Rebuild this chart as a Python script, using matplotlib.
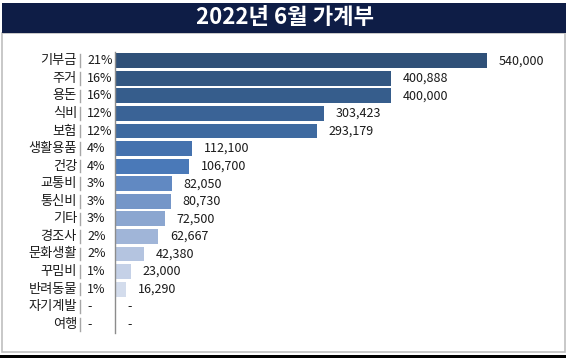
import matplotlib
matplotlib.use("Agg")
from matplotlib import pyplot as plt
from matplotlib import patches, transforms
from matplotlib.lines import Line2D

plt.rcParams['font.family'] = ['Noto Sans CJK KR', 'DejaVu Sans']

title = '2022년 6월 가계부'
categories = ['기부금', '주거', '용돈', '식비', '보험', '생활용품', '건강', '교통비',
              '통신비', '기타', '경조사', '문화생활', '꾸밈비', '반려동물', '자기계발', '여행']
amounts = [540000, 400888, 400000, 303423, 293179, 112100, 106700, 82050,
           80730, 72500, 62667, 42380, 23000, 16290, 0, 0]

bar_colors = ['#2F5078', '#335782', '#365D8C', '#3A6396', '#3E6AA0', '#4572AE', '#4A79B8',
              '#6189C2', '#7596C8', '#8BA6D0', '#A0B5D8', '#B4C4E0', '#C5D1E7', '#D3DCEC',
              '#D3DCEC', '#D3DCEC']

W, H = 569, 359
fig = plt.figure(figsize=(W / 100, H / 100), dpi=100)

def fx(px):
    return px / W

def fy(py):
    return 1 - py / H

# frame and title banner (behind the axes)
fig.patches.append(patches.Rectangle((fx(2), fy(352)), fx(563), (352 - 33) / H, transform=fig.transFigure,
                                     facecolor='white', edgecolor='#BFBFBF', linewidth=1.2, zorder=-5))
fig.patches.append(patches.Rectangle((fx(2), fy(33)), fx(564), 30 / H, transform=fig.transFigure,
                                     facecolor='#0E1D46', edgecolor='none', zorder=-4))
fig.patches.append(patches.Rectangle((fx(0), fy(358)), fx(566), 3 / H, transform=fig.transFigure,
                                     facecolor='black', edgecolor='none', zorder=-4))
fig.text(fx(285), fy(18), title, color='white', fontsize=16, fontweight='bold',
         ha='center', va='center')

ax = fig.add_axes([fx(115), fy(333), (565 - 115) / W, (333 - 52) / H])
ax.set_facecolor('none')
n = len(categories)
ypos = list(range(n))
ax.barh(ypos, amounts, height=0.85, color=bar_colors)
ax.set_xlim(0, 450 * 540000 / 372)
ax.set_ylim(n - 0.5, -0.5)
ax.set_xticks([])
ax.set_yticks([])
for s in ['top', 'right', 'bottom']:
    ax.spines[s].set_visible(False)
ax.spines['left'].set_color('#8C8C8C')
ax.spines['left'].set_linewidth(1)

total = sum(amounts)
blend = transforms.blended_transform_factory(fig.transFigure, ax.transData)
for i, (cat, val) in enumerate(zip(categories, amounts)):
    ax.text(fx(77), i, cat, transform=blend, ha='right', va='center', fontsize=9.5,
            color='#1A1A1A', clip_on=False)
    ax.add_line(Line2D([fx(80), fx(80)], [i - 0.36, i + 0.36], transform=blend,
                       color='#A6A6A6', linewidth=1, clip_on=False))
    pct = '-' if val == 0 else '{:.0f}%'.format(100 * val / total)
    ax.text(fx(87), i, pct, transform=blend, ha='left', va='center', fontsize=9,
            color='#1A1A1A', clip_on=False)
    lab = '-' if val == 0 else '{:,}'.format(val)
    ax.annotate(lab, (val, i), xytext=(8.6, 0), textcoords='offset points',
                ha='left', va='center', fontsize=9, color='#1A1A1A')

fig.savefig('out.png', dpi=100)
